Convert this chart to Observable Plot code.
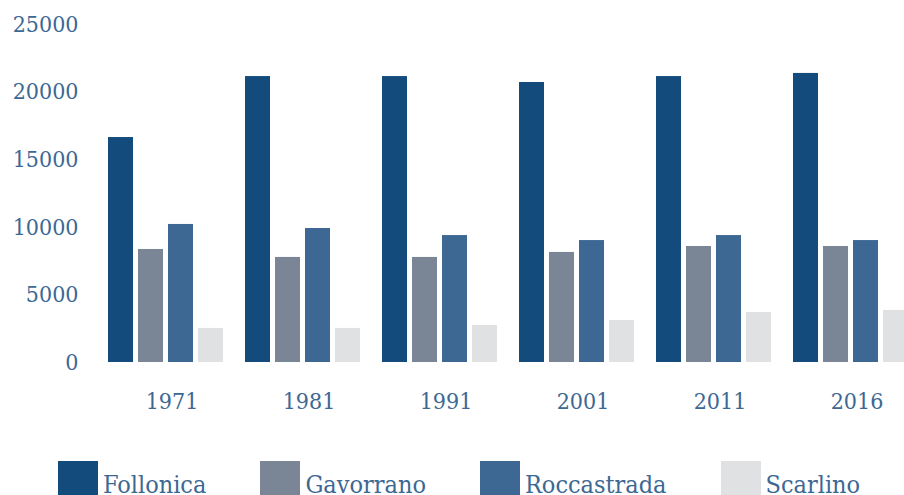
<!DOCTYPE html>
<html>
<head>
<meta charset="utf-8">
<script src="https://cdn.jsdelivr.net/npm/d3@7"></script>
<script src="https://cdn.jsdelivr.net/npm/@observablehq/plot@0.6"></script>
<style>
  html, body { margin: 0; padding: 0; background: #fff; width: 904px; height: 495px; overflow: hidden; }
  body { font-family: "DejaVu Serif Condensed", "DejaVu Serif", serif; font-stretch: condensed; }
  #chart svg { max-width: none !important; display: block; }
  #legend { display: flex; padding-left: 58px; padding-top: 21px; gap: 54px; color: #3d6893; }
  .item { display: flex; align-items: flex-start; }
  .sw { width: 40px; height: 40px; flex: none; }
  .lab { font-size: 25px; line-height: 1; margin-top: 11px; margin-left: 5px; white-space: nowrap; }
</style>
</head>
<body>
<div id="chart"></div>
<div id="legend"></div>
<script>
const years = ["1971", "1981", "1991", "2001", "2011", "2016"];
const comuni = ["Follonica", "Gavorrano", "Roccastrada", "Scarlino"];
const follonica   = [16640, 21150, 21150, 20710, 21150, 21380];
const gavorrano   = [8360, 7770, 7770, 8140, 8580, 8580];
const roccastrada = [10210, 9910, 9390, 9020, 9390, 9020];
const scarlino    = [2520, 2520, 2740, 3110, 3700, 3850];
const yTicks = [0, 5000, 10000, 15000, 20000, 25000];
const colors = ["#134b7c", "#7a8595", "#3d6893", "#e0e1e3"];
const textColor = "#3d6893";

const series = [follonica, gavorrano, roccastrada, scarlino];
const data = [];
years.forEach((yr, i) => {
  comuni.forEach((c, j) => data.push({year: yr, comune: c, value: series[j][i]}));
});

const chart = Plot.plot({
  width: 909,
  height: 440,
  marginLeft: 107,
  marginRight: 0,
  marginTop: 24,
  marginBottom: 78,
  style: {fontFamily: '"DejaVu Serif Condensed", "DejaVu Serif", serif', fontStretch: "condensed", background: "#fff"},
  fx: {domain: years, paddingInner: 0.163, paddingOuter: 0, label: null},
  x: {domain: comuni, paddingInner: 0.167, paddingOuter: 0, axis: null},
  y: {domain: [0, 25000], label: null},
  color: {domain: comuni, range: colors},
  marks: [
    Plot.barY(data, {fx: "year", x: "comune", y: "value", fill: "comune"}),
    Plot.axisY({ticks: yTicks, tickSize: 0, tickPadding: 30, label: null, fontSize: 23, fill: textColor, tickFormat: d => String(d)}),
    Plot.axisFx({anchor: "bottom", tickSize: 0, tickPadding: 30, dx: 6, label: null, fontSize: 23, fill: textColor})
  ]
});
document.getElementById("chart").appendChild(chart);

const legend = document.getElementById("legend");
comuni.forEach((c, j) => {
  const item = document.createElement("div");
  item.className = "item";
  const sw = document.createElement("div");
  sw.className = "sw";
  sw.style.background = colors[j];
  const lab = document.createElement("span");
  lab.className = "lab";
  lab.textContent = c;
  item.appendChild(sw);
  item.appendChild(lab);
  legend.appendChild(item);
});
</script>
</body>
</html>
